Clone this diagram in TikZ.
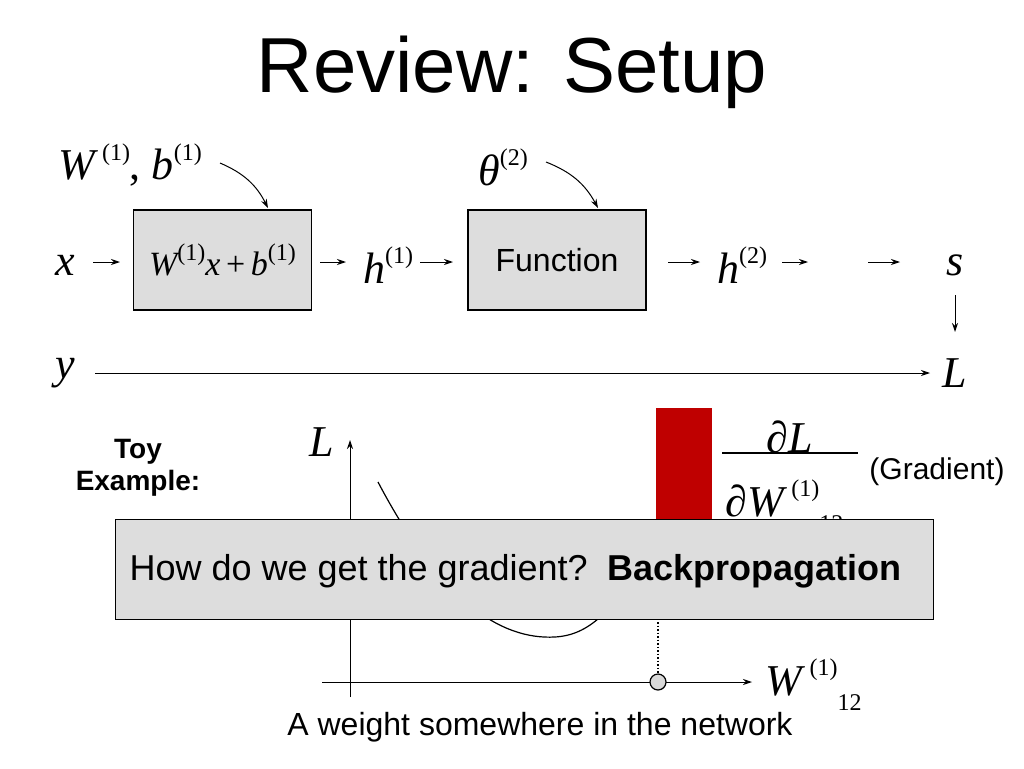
\documentclass[tikz,border=0pt]{standalone}
\usepackage{fontspec}
\setmainfont{Liberation Sans}
\newfontfamily\tms{Liberation Serif}
\usetikzlibrary{arrows.meta}
\newcommand{\fs}[1]{\fontsize{#1}{#1}\selectfont}
\newcommand{\vi}[1]{{\tms\itshape #1}}
\newcommand{\sps}[1]{\raisebox{0.45em}{\fontsize{24}{24}\selectfont\tms #1}}
\newcommand{\sbs}[1]{\raisebox{-0.35em}{\fontsize{24}{24}\selectfont\tms #1}}
\begin{document}
\begin{tikzpicture}[x=1pt,y=-1pt,
  box/.style={draw,line width=1.2pt,fill=gray!27,minimum width=178pt,minimum height=100pt},
  m/.style={font=\fs{44}\tms},
  ar/.style={-{Stealth[length=9pt,width=6pt]},line width=1pt},
  sans/.style={font=\fs{32}}]
\useasboundingbox (0,0) rectangle (1024,768);
\node[font=\fs{78}] (title) at (512,72) {Review: Setup};
\node[box] (b1) at (222.5,260) {};
\node[font=\fs{34}\tms] at (b1) {\vi{W}\sps{(1)}\vi{x}\,+\,\vi{b}\sps{(1)}};
\node[box,sans] (b2) at (557,260) {Function};
\node[m] (x) at (65,265) {\vi{x}};
\node[m] (h1) at (388,265) {\vi{h}\sps{(1)}};
\node[m] (h2) at (742,265) {\vi{h}\sps{(2)}};
\node[m] (s) at (955,265) {\vi{s}};
\node[m] (L) at (955,373) {\vi{L}};
\node[m] (y) at (65,373) {\vi{y}};
\node[m] (wb) at (130,165) {\vi{W}\,\sps{(1)}, \vi{b}\sps{(1)}};
\node[m] (th) at (503,167) {\vi{θ}\sps{(2)}};
\coordinate (e1) at (808,262); \coordinate (s1) at (868,262);
\coordinate (b1t) at (268,208); \coordinate (b2t) at (598,208);
\draw[ar] (93,262) -- (120,262);
\draw[ar] (320,262) -- (346,262);
\draw[ar] (420,262) -- (453,262);
\draw[ar] (668,262) -- (700,262);
\draw[ar] (782,262) -- (e1);
\draw[ar] (s1) -- (900,262);
\draw[ar] (955,295) -- (955,332);
\draw[ar] (95,373) -- (930,373);
\draw[ar] (220,163) to[bend left=20] (b1t);
\draw[ar] (546,162) to[bend left=20] (b2t);
% toy example
\node[font=\bfseries\fs{28},align=center] (toy) at (138,468) {Toy\\[4pt]Example:};
\coordinate (o) at (350,697); \coordinate (ytop) at (350,440);
\coordinate (xl) at (322,682); \coordinate (xr) at (752,682);
\draw[ar] (o) -- (ytop);
\draw[ar] (xl) -- (xr);
\node[m] (La) at (322,442) {\vi{L}};
\node[m,anchor=west] (Wa) at (762,685) {\vi{W}\,\sps{(1)}\sbs{12}};
\draw[line width=1.2pt] (378,482) .. controls (440,600) and (500,640) .. (555,637) .. controls (590,635) and (610,610) .. (640,570);
\node[draw,line width=1.2pt,fill=gray!30,circle,minimum size=16pt,inner sep=0] (pt) at (658,682) {};
\coordinate (dtop) at (658,615);
\draw[line width=1.5pt,dotted] (dtop) -- (pt.north);
\node[fill=red!75!black,minimum width=56pt,minimum height=112pt,inner sep=0] (bar) at (684,464) {};
\node[m] (num) at (790,437) {∂\vi{L}};
\draw[line width=2pt] (722,453) -- (858,453);
\node[m,anchor=west] (den) at (722,506) {∂\vi{W}\,\sps{(1)}\sbs{12}};
\node[font=\fs{30}] (grad) at (937,472) {(Gradient)};
\node[draw,line width=1.2pt,fill=gray!27,minimum width=818pt,minimum height=100pt,anchor=north west] (ov) at (115,519) {};
\node[font=\fs{36},anchor=west] (q) at (126,571) {How do we get the gradient?\ \ \textbf{Backpropagation}};
\node[font=\fs{32}] (cap) at (540,727) {A weight somewhere in the network};
\end{tikzpicture}
\end{document}
